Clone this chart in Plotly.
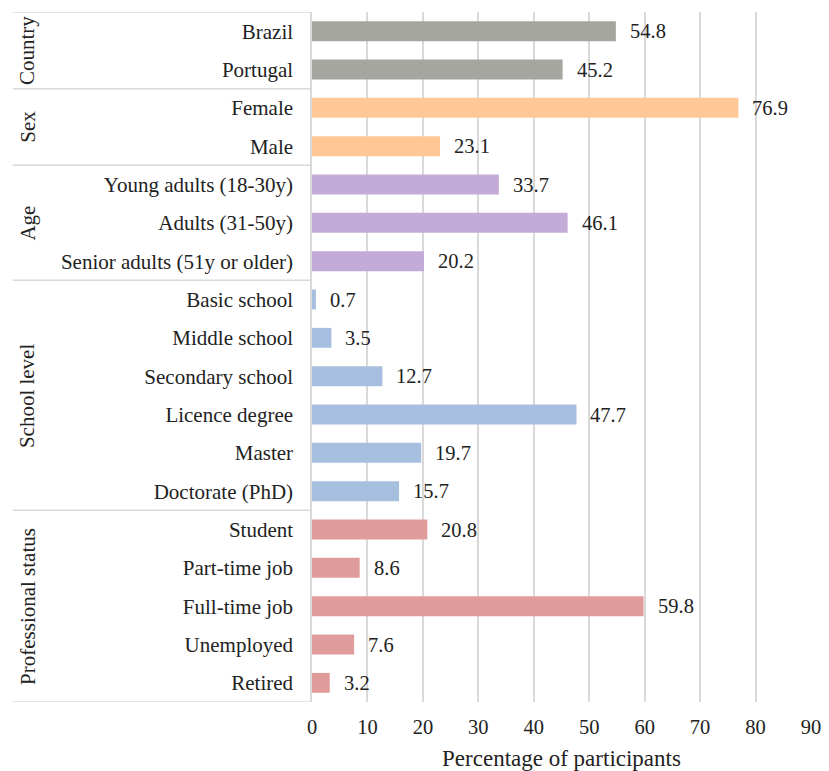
import plotly.graph_objects as go

# ---- data ----
groups = ["Country", "Sex", "Age", "School level", "Professional status"]
country_cats = ["Brazil", "Portugal"]
country_vals = [54.8, 45.2]
sex_cats = ["Female", "Male"]
sex_vals = [76.9, 23.1]
age_cats = ["Young adults (18-30y)", "Adults (31-50y)", "Senior adults (51y or older)"]
age_vals = [33.7, 46.1, 20.2]
school_cats = ["Basic school", "Middle school", "Secondary school", "Licence degree", "Master", "Doctorate (PhD)"]
school_vals = [0.7, 3.5, 12.7, 47.7, 19.7, 15.7]
prof_cats = ["Student", "Part-time job", "Full-time job", "Unemployed", "Retired"]
prof_vals = [20.8, 8.6, 59.8, 7.6, 3.2]
x_ticks = [0, 10, 20, 30, 40, 50, 60, 70, 80, 90]

group_cats = [country_cats, sex_cats, age_cats, school_cats, prof_cats]
group_vals = [country_vals, sex_vals, age_vals, school_vals, prof_vals]
group_colors = ["#A6A6A1", "#FFC896", "#C3ABD8", "#A7BFDF", "#E09C9A"]

FONT = "Liberation Serif"
W, H = 829, 771
ML, MR, MT, MB = 311.5, 18, 11.8, 771 - 702.2
plot_w = W - ML - MR

cats, vals, cols = [], [], []
for c, v, col in zip(group_cats, group_vals, group_colors):
    cats += c
    vals += v
    cols += [col] * len(c)

fig = go.Figure()
fig.add_trace(go.Bar(
    x=vals, y=cats, orientation="h",
    marker=dict(color=cols, line=dict(width=0)),
    width=0.52, showlegend=False, hoverinfo="x+y",
))

annotations = []
for c, v in zip(cats, vals):
    annotations.append(dict(
        x=v, y=c, xref="x", yref="y", text=f"{v:.1f}", showarrow=False,
        xanchor="left", yanchor="middle", xshift=12,
        font=dict(family=FONT, size=20.5, color="#222222"),
    ))

shapes = []
x_left = (12 - ML) / plot_w
x_grp = (27 - ML) / plot_w
idx = 0
shapes.append(dict(type="line", xref="paper", yref="y", x0=x_left, x1=0,
                   y0=-0.5, y1=-0.5, line=dict(color="#D9D9D9", width=1.5)))
for g, c in zip(groups, group_cats):
    n = len(c)
    start = idx
    idx += n
    shapes.append(dict(type="line", xref="paper", yref="y", x0=x_left, x1=0,
                       y0=idx - 0.5, y1=idx - 0.5,
                       line=dict(color="#D9D9D9", width=1.5)))
    annotations.append(dict(
        x=x_grp, y=(start + idx - 1) / 2, xref="paper", yref="y", text=g,
        textangle=-90, showarrow=False, xanchor="center", yanchor="middle",
        font=dict(family=FONT, size=21, color="#222222"),
    ))

fig.update_layout(
    width=W, height=H,
    margin=dict(l=ML, r=MR, t=MT, b=MB, pad=0, autoexpand=False),
    paper_bgcolor="white", plot_bgcolor="white",
    font=dict(family=FONT),
    xaxis=dict(
        range=[0, 90], tickvals=x_ticks, ticktext=[str(t) for t in x_ticks],
        showgrid=True, gridcolor="#D9D9D9", gridwidth=1.5,
        zeroline=False, showline=False, automargin=False,
        ticks="outside", ticklen=6, tickcolor="rgba(0,0,0,0)",
        tickfont=dict(family=FONT, size=20.5, color="#222222"),
        title=dict(text="Percentage of participants", standoff=20,
                   font=dict(family=FONT, size=23, color="#222222")),
        fixedrange=True,
    ),
    yaxis=dict(
        type="category", categoryorder="array", categoryarray=cats,
        range=[len(cats) - 0.5, -0.5], automargin=False,
        showgrid=False, zeroline=False,
        showline=True, linecolor="#D9D9D9", linewidth=1.5,
        ticks="outside", ticklen=13, tickcolor="rgba(0,0,0,0)",
        tickfont=dict(family=FONT, size=21, color="#222222"),
        fixedrange=True,
    ),
    shapes=shapes,
    annotations=annotations,
)

fig.write_html("out.html")
